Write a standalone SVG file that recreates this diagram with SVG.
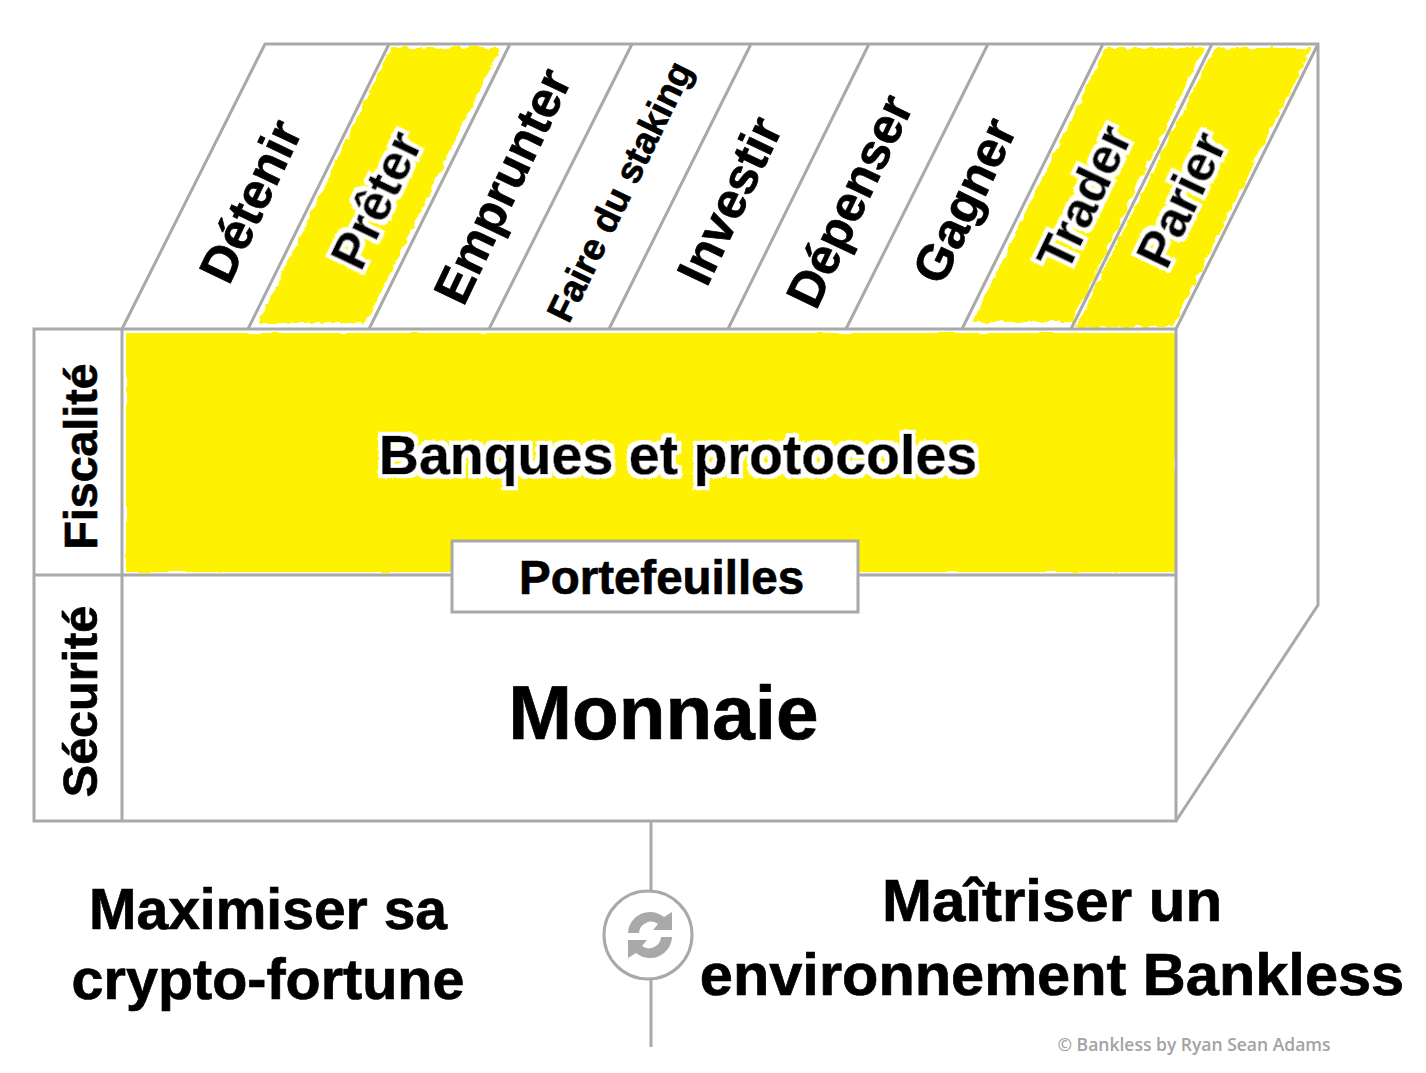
<svg xmlns="http://www.w3.org/2000/svg" width="1426" height="1073" viewBox="0 0 1426 1073">
<defs>
<filter id="rough" x="-5%" y="-5%" width="110%" height="110%">
<feTurbulence type="fractalNoise" baseFrequency="0.12" numOctaves="3" seed="4"/>
<feDisplacementMap in="SourceGraphic" scale="7" xChannelSelector="R" yChannelSelector="G"/>
</filter>
<filter id="rough-soft" x="-2%" y="-5%" width="104%" height="110%">
<feTurbulence type="fractalNoise" baseFrequency="0.03" numOctaves="2" seed="9"/>
<feDisplacementMap in="SourceGraphic" scale="3" xChannelSelector="R" yChannelSelector="G"/>
</filter>
<filter id="halo" x="-10%" y="-20%" width="120%" height="140%">
<feMorphology in="SourceAlpha" operator="dilate" radius="3.5" result="d"/>
<feTurbulence type="fractalNoise" baseFrequency="0.25" numOctaves="2" seed="7" result="n"/>
<feDisplacementMap in="d" in2="n" scale="3" xChannelSelector="R" yChannelSelector="G" result="w"/>
<feFlood flood-color="#fff"/>
<feComposite in2="w" operator="in" result="h"/>
<feMerge><feMergeNode in="h"/><feMergeNode in="SourceGraphic"/></feMerge>
</filter>
</defs>
<style>
text{font-family:"Liberation Sans",Arial,sans-serif;font-weight:700;fill:#000;stroke:#000;stroke-width:.7px;text-anchor:middle}
.y{fill:#fff200;stroke:none}
.l{fill:none;stroke:#a9a9a9;stroke-width:3}
.halo{filter:url(#halo)}
.top{font-size:50px}
</style>
<rect width="1426" height="1073" fill="#fff"/>
<g id="fills">
<polygon class="y" filter="url(#rough-soft)" points="126,333 1175,333 1175,572 126,572"/>
<polygon class="y" filter="url(#rough)" points="391,48 500,48 366,323 258,323"/>
<polygon class="y" filter="url(#rough)" points="1106,48 1204,48 1072,322 972,322"/>
<polygon class="y" filter="url(#rough)" points="1214,48 1312,48 1172,327 1076,327"/>
</g>
<g id="connectors">
<path class="l" d="M122,329L265,44H1318V605L1176,821M1318,44L1176,329M248,329L389,44M369,329L510,44M489,329L632,44M609,329L751,44M728,329L869,44M846,329L988,44M962,329L1103,44M1071,329L1212,44"/>
<path class="l" d="M34,329H1176V821H34ZM122,329V821M34,575H1176"/>
<path class="l" d="M651,821V892M651,980V1047"/>
</g>
<g id="col-detenir"><text class="top" transform="translate(266,208.500) rotate(-64.500)">Détenir</text></g>
<g id="col-preter"><text class="top halo" transform="translate(392,207.500) rotate(-64.500)">Prêter</text></g>
<g id="col-emprunter"><text class="top" transform="translate(518,193.500) rotate(-64.500)">Emprunter</text></g>
<g id="col-staking"><text transform="translate(631,197) rotate(-64)" font-size="37">Faire du staking</text></g>
<g id="col-investir"><text class="top" transform="translate(745,208) rotate(-64.500)">Investir</text></g>
<g id="col-depenser"><text class="top" transform="translate(865,208.500) rotate(-64.500)">Dépenser</text></g>
<g id="col-gagner"><text class="top" transform="translate(980,208) rotate(-64.500)">Gagner</text></g>
<g id="col-trader"><text class="top halo" transform="translate(1100,205) rotate(-64.500)">Trader</text></g>
<g id="col-parier"><text class="top halo" transform="translate(1197,207) rotate(-64.500)">Parier</text></g>
<g id="row-fiscalite"><text transform="translate(97,456.500) rotate(-90)" font-size="46.500">Fiscalité</text></g>
<g id="row-securite"><text transform="translate(97,701.500) rotate(-90)" font-size="48.500">Sécurité</text></g>
<g id="banques"><text class="halo" x="678" y="474" font-size="55.500">Banques et protocoles</text></g>
<g id="portefeuilles">
<rect x="452" y="541" width="406" height="71" fill="#fff" stroke="#a9a9a9" stroke-width="3"/>
<text x="661.500" y="594" font-size="47.500">Portefeuilles</text>
</g>
<g id="monnaie"><text x="663.500" y="739" font-size="76.500">Monnaie</text></g>
<g id="cycle">
<circle cx="648" cy="935" r="44" fill="#fff" stroke="#a9a9a9" stroke-width="3"/>
<path d="M628,933A22,22 0 0 1 664,917L672,912V930H653L658,924A12,12 0 0 0 639,933ZM672,937A22,22 0 0 1 636,953L628,958V940H647L642,946A12,12 0 0 0 661,937Z" fill="#a9a9a9"/>
</g>
<g id="maximiser">
<text x="268" y="929" font-size="57">Maximiser sa</text>
<text x="268" y="999" font-size="57.500">crypto-fortune</text>
</g>
<g id="maitriser">
<text x="1052" y="921" font-size="60">Maîtriser un</text>
<text x="1052" y="995" font-size="59.500">environnement Bankless</text>
</g>
<g id="credit"><text x="1194" y="1051" font-size="17.500" style="font-family:'Open Sans',sans-serif;font-weight:600;fill:#a3a3a3;stroke:none">© Bankless by Ryan Sean Adams</text></g>
</svg>
